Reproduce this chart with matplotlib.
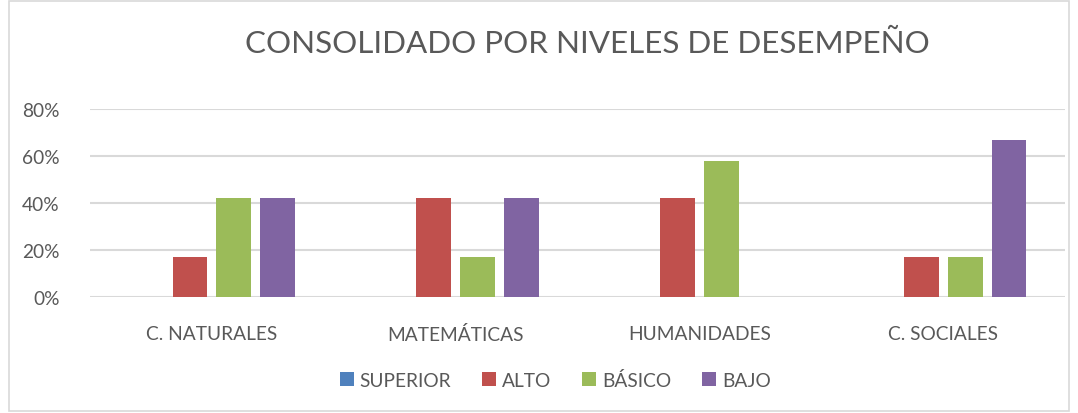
import numpy as np
import matplotlib
matplotlib.use("Agg")
import matplotlib.pyplot as plt
from matplotlib.patches import Rectangle
from matplotlib.ticker import FuncFormatter

# ─────────────────────────────────────────────
#  Data
# ─────────────────────────────────────────────
categories = ["C. NATURALES", "MATEMÁTICAS", "HUMANIDADES", "C. SOCIALES"]
series_names = ["SUPERIOR", "ALTO", "BÁSICO", "BAJO"]
superior = [0.00, 0.00, 0.00, 0.00]
alto = [0.17, 0.42, 0.42, 0.17]
basico = [0.42, 0.17, 0.58, 0.17]
bajo = [0.42, 0.42, 0.00, 0.67]
colors = ["#4F81BD", "#C0504D", "#9BBB59", "#8064A2"]

TEXT = "#595959"
GRID = "#D9D9D9"
plt.rcParams["font.family"] = ["Lato", "DejaVu Sans"]

fig = plt.figure(figsize=(10.78, 4.14), dpi=100)
ax = fig.add_axes([0.0835, 0.280, 0.9045, 0.454])

x = np.arange(len(categories))
step = 0.18
width = 0.143
for i, (vals, name, c) in enumerate(zip([superior, alto, basico, bajo], series_names, colors)):
    ax.bar(x + (i - 1.5) * step, vals, width, color=c, label=name, zorder=3)

ax.set_xlim(-0.5, len(categories) - 0.5)
ax.set_ylim(0, 0.8)
ax.set_yticks([0, 0.2, 0.4, 0.6, 0.8])
ax.yaxis.set_major_formatter(FuncFormatter(lambda v, _: f"{v*100:.0f}%"))
ax.grid(axis="y", color=GRID, linewidth=1.5, zorder=0)
ax.set_xticks(x)
ax.set_xticklabels(categories)
for s in ax.spines.values():
    s.set_visible(False)
ax.tick_params(axis="both", length=0, colors=TEXT, labelsize=13.8)
ax.tick_params(axis="x", pad=20)
ax.tick_params(axis="y", pad=22)

fig.text(0.545, 0.895, "CONSOLIDADO POR NIVELES DE DESEMPEÑO", ha="center", va="center",
         fontsize=22.6, color=TEXT)

leg = fig.legend(loc="center", bbox_to_anchor=(0.515, 0.08), ncol=4, frameon=False,
                 fontsize=13.8, handlelength=0.75, handleheight=0.75, handletextpad=0.3,
                 columnspacing=1.6)
for t in leg.get_texts():
    t.set_color(TEXT)

fig.patches.append(Rectangle((0.008, 0.005), 0.984, 0.99, transform=fig.transFigure,
                             fill=False, edgecolor=GRID, linewidth=1.2))

fig.savefig("out.png", dpi=100)
plt.close(fig)
